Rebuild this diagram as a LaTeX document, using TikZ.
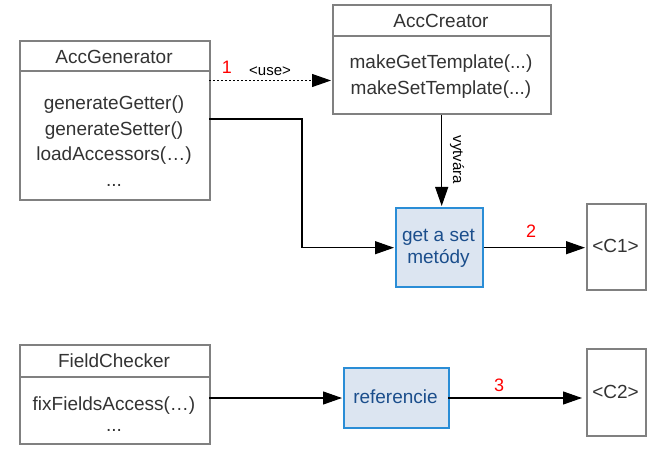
\documentclass[tikz,border=0pt]{standalone}
\usepackage{fontspec}
\setmainfont{Liberation Sans}
\usetikzlibrary{arrows.meta}
\definecolor{boxgray}{HTML}{808080}
\definecolor{txtgray}{HTML}{333333}
\definecolor{hlfill}{HTML}{DCE5F1}
\definecolor{hlborder}{HTML}{2A8DD6}
\definecolor{hltext}{HTML}{1B4E8C}
\definecolor{numred}{HTML}{FF0000}
\begin{document}
\begin{tikzpicture}[x=1pt,y=-1pt,
  classbox/.style={draw=boxgray, line width=2pt, fill=white, inner sep=0pt, anchor=north west},
  divline/.style={draw=boxgray, line width=2pt},
  hlbox/.style={draw=hlborder, line width=2.4pt, fill=hlfill, inner sep=0pt, anchor=north west},
  txt/.style={text=txtgray, font=\fontsize{19}{22}\selectfont, inner sep=0pt, anchor=base},
  hltxt/.style={text=hltext, font=\fontsize{19}{22}\selectfont, inner sep=0pt, anchor=base},
  num/.style={text=numred, font=\fontsize{18}{20}\selectfont, inner sep=0pt, anchor=base},
  small/.style={text=black, font=\fontsize{15}{17}\selectfont, inner sep=0pt},
  conn/.style={draw=black, line width=1.1pt, -{Triangle[length=19pt,width=13pt]}, shorten >=1pt},
  dotconn/.style={conn, dash pattern=on 2pt off 2pt}
]
\useasboundingbox (0,0) rectangle (664,449);

% AccGenerator
\node[classbox, minimum width=190pt, minimum height=159pt] (gen) at (19,40) {};
\draw[divline] ([yshift=-31pt]gen.north west) -- ([yshift=-31pt]gen.north east);
\node[txt] (genh) at (114,64) {AccGenerator};
\node[txt] (gen1) at (114,110) {generateGetter()};
\node[txt] (gen2) at (114,135.5) {generateSetter()};
\node[txt] (gen3) at (114,161) {loadAccessors(…)};
\node[txt] (gen4) at (114,187) {...};

% AccCreator
\node[classbox, minimum width=218pt, minimum height=109pt] (cre) at (332,4) {};
\draw[divline] ([yshift=-32pt]cre.north west) -- ([yshift=-32pt]cre.north east);
\node[txt] (creh) at (441,28) {AccCreator};
\node[txt] (cre1) at (441,69) {makeGetTemplate(...)};
\node[txt] (cre2) at (441,95) {makeSetTemplate(...)};

% get a set metody
\node[hlbox, minimum width=87pt, minimum height=79pt] (gs) at (395,207) {};
\node[hltxt] (gs1) at (438.5,242) {get a set};
\node[hltxt] (gs2) at (438.5,263.5) {metódy};

% C1
\node[classbox, minimum width=59pt, minimum height=86pt] (c1) at (586,203) {};
\node[txt] (c1t) at (615.5,252.5) {<C1>};

% FieldChecker
\node[classbox, minimum width=190pt, minimum height=99pt] (fc) at (19,344) {};
\draw[divline] ([yshift=-33pt]fc.north west) -- ([yshift=-33pt]fc.north east);
\node[txt] (fch) at (114,367) {FieldChecker};
\node[txt] (fc1) at (114,410) {fixFieldsAccess(…)};
\node[txt] (fc2) at (114,431) {...};

% referencie
\node[hlbox, minimum width=105pt, minimum height=60pt] (ref) at (343,367) {};
\node[hltxt] (reft) at (395.5,403) {referencie};

% C2
\node[classbox, minimum width=59pt, minimum height=87pt] (c2) at (586,348) {};
\node[txt] (c2t) at (615.5,398) {<C2>};

% connectors
\coordinate (u1) at (209,80.5);
\draw[dotconn] (u1) -- (u1 -| cre.west);
\node[num] (n1) at (227,74) {1};
\node[small, anchor=base] (use) at (270,76) {<use>};

\coordinate (g1) at (209,119);
\coordinate (g2) at (302,119);
\draw[conn] (g1) -- (g2) |- (gs.west);

\draw[conn] (gs.north |- cre.south) ++(2pt,0) coordinate (v1) -- (v1 |- gs.north);
\node[small, rotate=-90] (vyt) at (457,160) {vytvára};

\draw[conn] (gs.east) -- (gs.east -| c1.west);
\node[num] (n2) at (531,237) {2};

\coordinate (f1) at (209,398);
\draw[conn] (f1) -- (f1 -| ref.west);
\coordinate (r1) at (448,398);
\draw[conn, shorten >=4pt] (r1) -- (r1 -| c2.west);
\node[num] (n3) at (499,391) {3};
\end{tikzpicture}
\end{document}
